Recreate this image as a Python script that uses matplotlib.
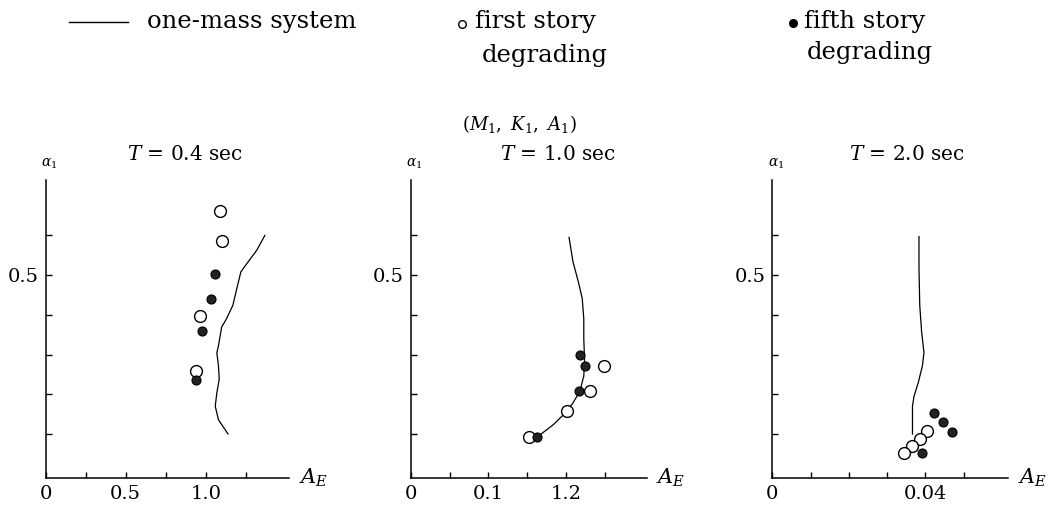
import matplotlib
matplotlib.use("Agg")
import matplotlib.pyplot as plt
from matplotlib.lines import Line2D

plt.rcParams['font.family'] = ['DejaVu Serif']
plt.rcParams['mathtext.fontset'] = 'dejavuserif'

# ---- data ----
# T = 0.4 sec
curve04_x = [1.37, 1.32, 1.25, 1.22, 1.20, 1.17, 1.13, 1.10, 1.08, 1.07, 1.08, 1.085, 1.07, 1.06, 1.08, 1.14]
curve04_y = [0.60, 0.563, 0.525, 0.508, 0.475, 0.424, 0.390, 0.369, 0.322, 0.305, 0.272, 0.238, 0.204, 0.170, 0.136, 0.100]
first04_x = [1.09, 1.105, 0.965, 0.94]
first04_y = [0.662, 0.585, 0.398, 0.259]
fifth04_x = [1.058, 1.031, 0.979, 0.94]
fifth04_y = [0.502, 0.441, 0.360, 0.235]

# T = 1.0 sec
curve10_x = [0.204, 0.209, 0.216, 0.221, 0.223, 0.223, 0.224, 0.223, 0.218, 0.209, 0.199, 0.184, 0.164]
curve10_y = [0.595, 0.534, 0.483, 0.441, 0.390, 0.339, 0.288, 0.246, 0.208, 0.178, 0.153, 0.124, 0.094]
first10_x = [0.249, 0.231, 0.201, 0.152]
first10_y = [0.272, 0.208, 0.157, 0.092]
fifth10_x = [0.224, 0.218, 0.217, 0.163]
fifth10_y = [0.270, 0.299, 0.208, 0.092]

# T = 2.0 sec
curve20_x = [0.0383, 0.0383, 0.0385, 0.0390, 0.0396, 0.0392, 0.0381, 0.0370, 0.0366, 0.0366]
curve20_y = [0.597, 0.517, 0.424, 0.356, 0.305, 0.272, 0.229, 0.195, 0.170, 0.100]
first20_x = [0.0404, 0.0385, 0.0366, 0.0344]
first20_y = [0.107, 0.087, 0.070, 0.052]
fifth20_x = [0.0423, 0.0445, 0.0470, 0.0392]
fifth20_y = [0.152, 0.130, 0.106, 0.052]

titles = ['$T$ = 0.4 sec', '$T$ = 1.0 sec', '$T$ = 2.0 sec']
xmax = [1.52, 0.304, 0.0616]
xticks = [[0, 0.25, 0.5, 0.75, 1.0, 1.25],
          [0, 0.05, 0.1, 0.15, 0.2, 0.25],
          [0, 0.01, 0.02, 0.03, 0.04, 0.05]]
xticklabels = [['0', '', '0.5', '', '1.0', ''],
               ['0', '', '0.1', '', '1.2', ''],
               ['0', '', '', '', '0.04', '']]
yticks = [0.1, 0.2, 0.3, 0.4, 0.5, 0.6]
yticklabels = ['', '', '', '', '0.5', '']

curves = [(curve04_x, curve04_y), (curve10_x, curve10_y), (curve20_x, curve20_y)]
firsts = [(first04_x, first04_y), (first10_x, first10_y), (first20_x, first20_y)]
fifths = [(fifth04_x, fifth04_y), (fifth10_x, fifth10_y), (fifth20_x, fifth20_y)]

fig = plt.figure(figsize=(10.48, 5.05), dpi=100)
lefts = [0.0436, 0.392, 0.737]
widths = [0.232, 0.225, 0.225]
title_x = [0.573, 0.624, 0.571]

for i in range(3):
    ax = fig.add_axes([lefts[i], 0.054, widths[i], 0.59])
    ax.plot(curves[i][0], curves[i][1], color='black', lw=0.9)
    ax.plot(firsts[i][0], firsts[i][1], 'o', ms=8.5, mfc='white', mec='black', mew=1.0, ls='none')
    ax.plot(fifths[i][0], fifths[i][1], 'o', ms=6.5, mfc='#222222', mec='black', mew=0.8, ls='none')
    ax.set_xlim(0, xmax[i])
    ax.set_ylim(-0.01, 0.74)
    ax.set_xticks(xticks[i])
    ax.set_xticklabels(xticklabels[i])
    ax.set_yticks(yticks)
    ax.set_yticklabels(yticklabels)
    ax.tick_params(direction='in', length=4, width=1, labelsize=14, pad=5)
    ax.spines['top'].set_visible(False)
    ax.spines['right'].set_visible(False)
    ax.spines['left'].set_linewidth(1.1)
    ax.spines['bottom'].set_linewidth(1.1)
    ax.set_facecolor('none')
    ax.text(-0.02, 1.055, r'$\alpha_1$', transform=ax.transAxes, fontsize=10, ha='left', va='center')
    ax.text(title_x[i], 1.085, titles[i], transform=ax.transAxes, fontsize=14.5, ha='center', va='center')
    ax.text(1.04, 0.0, r'$A_E$', transform=ax.transAxes, fontsize=15, ha='left', va='center')

fig.text(0.496, 0.754, r'$(M_1,\ K_1,\ A_1)$', fontsize=13, ha='center', va='center')

# legend drawn by hand at the top
fig.add_artist(Line2D([0.066, 0.122], [0.957, 0.957], color='black', lw=1.0, transform=fig.transFigure))
fig.text(0.140, 0.957, 'one-mass system', fontsize=17.5, ha='left', va='center')
fig.add_artist(Line2D([0.4405], [0.952], marker='o', ms=5.5, mfc='white', mec='black', mew=1.0, transform=fig.transFigure))
fig.text(0.453, 0.957, 'first story', fontsize=17.5, ha='left', va='center')
fig.text(0.460, 0.891, 'degrading', fontsize=17.5, ha='left', va='center')
fig.add_artist(Line2D([0.757], [0.955], marker='o', ms=5.5, mfc='black', mec='black', transform=fig.transFigure))
fig.text(0.767, 0.957, 'fifth story', fontsize=17.5, ha='left', va='center')
fig.text(0.770, 0.897, 'degrading', fontsize=17.5, ha='left', va='center')

fig.savefig('out.png', dpi=100)
